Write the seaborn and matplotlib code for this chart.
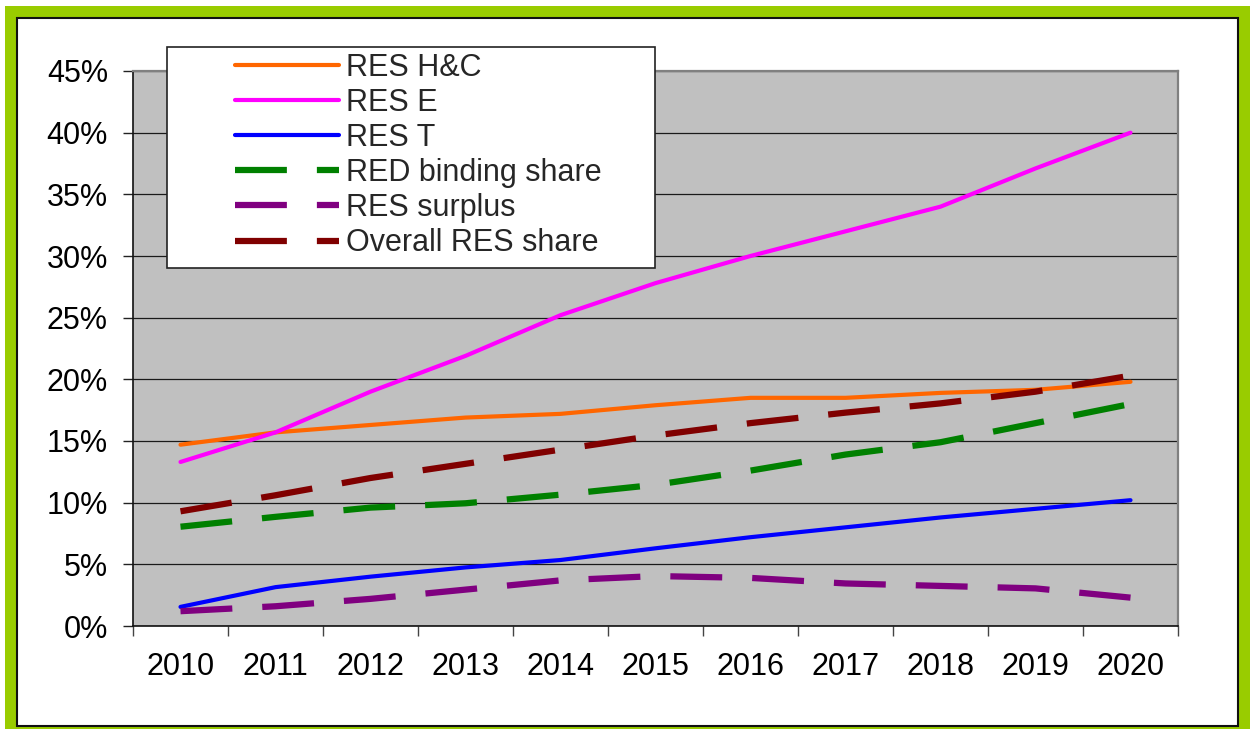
import matplotlib
matplotlib.use("Agg")
import matplotlib.pyplot as plt
from matplotlib.patches import Rectangle
from matplotlib.ticker import FixedLocator, FuncFormatter
import seaborn as sns

years = [2010, 2011, 2012, 2013, 2014, 2015, 2016, 2017, 2018, 2019, 2020]
res_hc = [14.7, 15.7, 16.3, 16.9, 17.2, 17.9, 18.5, 18.5, 18.9, 19.15, 19.8]
res_e = [13.3, 15.7, 19.0, 21.9, 25.2, 27.8, 30.0, 32.0, 34.0, 37.1, 40.0]
res_t = [1.55, 3.15, 4.0, 4.75, 5.35, 6.3, 7.2, 8.0, 8.8, 9.5, 10.2]
red_binding = [8.05, 8.85, 9.6, 9.95, 10.65, 11.45, 12.6, 13.9, 14.9, 16.45, 18.0]
res_surplus = [1.2, 1.6, 2.2, 2.95, 3.7, 4.05, 3.9, 3.45, 3.25, 3.05, 2.3]
overall_res = [9.3, 10.6, 12.0, 13.15, 14.3, 15.45, 16.45, 17.3, 18.05, 19.0, 20.3]

series_names = ["RES H&C", "RES E", "RES T", "RED binding share", "RES surplus", "Overall RES share"]
y_ticks = [0, 5, 10, 15, 20, 25, 30, 35, 40, 45]

sns.set_style("white")
plt.rcParams["font.family"] = ["Liberation Sans", "DejaVu Sans"]
FS = 22

fig = plt.figure(figsize=(12.5, 7.29), dpi=100)
fig.patch.set_facecolor("white")

# outer green frame and inner white panel
fig.add_artist(Rectangle((5 / 1250, -0.05), 1.1, 1 - 6 / 729 + 0.05,
                         transform=fig.transFigure, facecolor="#99CC00",
                         edgecolor="none", zorder=-20))
fig.add_artist(Rectangle((17 / 1250, 1 - 726 / 729), (1238 - 17) / 1250, (726 - 18) / 729,
                         transform=fig.transFigure, facecolor="white",
                         edgecolor="#111111", linewidth=1.5, zorder=-19))

ax = fig.add_axes([133 / 1250, 1 - 626 / 729, (1178 - 133) / 1250, (626 - 71) / 729])
ax.set_facecolor("#C0C0C0")

solid_lw = 3.0
dash_lw = 4.5
dash_style = (0, (8.3, 4.8))
styles = [
    (res_hc, "#FF6600", solid_lw, "-"),
    (res_e, "#FF00FF", solid_lw, "-"),
    (res_t, "#0000FF", solid_lw, "-"),
    (red_binding, "#008000", dash_lw, dash_style),
    (res_surplus, "#800080", dash_lw, dash_style),
    (overall_res, "#800000", dash_lw, dash_style),
]
for name, (vals, col, lw, ls) in zip(series_names, styles):
    sns.lineplot(x=years, y=vals, ax=ax, color=col, linewidth=lw,
                 linestyle=ls, label=name, legend=False, zorder=3)

ax.set_xlim(2009.5, 2020.5)
ax.set_ylim(0, 45)
ax.yaxis.set_major_locator(FixedLocator(y_ticks))
ax.yaxis.set_major_formatter(FuncFormatter(lambda v, p: f"{int(round(v))}%"))
ax.xaxis.set_major_locator(FixedLocator(years))
ax.xaxis.set_major_formatter(FuncFormatter(lambda v, p: f"{int(round(v))}"))
ax.xaxis.set_minor_locator(FixedLocator([y - 0.5 for y in years] + [years[-1] + 0.5]))

ax.grid(axis="y", color="#1a1a1a", linewidth=0.9, zorder=1)
ax.set_axisbelow(True)
ax.tick_params(axis="y", which="major", direction="out", length=7, width=1,
               color="#222222", pad=11, labelsize=FS, labelcolor="black", left=True)
ax.tick_params(axis="x", which="major", length=0, pad=19, labelsize=FS, labelcolor="black")
ax.tick_params(axis="x", which="minor", direction="out", length=7, width=1,
               color="#444444", bottom=True)

for side in ["left", "bottom"]:
    ax.spines[side].set_color("#111111")
    ax.spines[side].set_linewidth(1.2)
for side in ["top", "right"]:
    ax.spines[side].set_visible(True)
    ax.spines[side].set_color("#808080")
    ax.spines[side].set_linewidth(1.6)
ax.set_xlabel("")
ax.set_ylabel("")

# legend box
ax.add_patch(Rectangle((167 / 1250, 1 - 268 / 729), 488 / 1250, 221 / 729,
                       transform=fig.transFigure, facecolor="white",
                       edgecolor="#222222", linewidth=1.2, zorder=10, clip_on=False))
handles = ax.get_lines()[:6]
leg = ax.legend(handles, series_names, loc="upper left",
                bbox_to_anchor=(235 / 1250, 1 - 53 / 729), bbox_transform=fig.transFigure,
                frameon=False, borderpad=0, borderaxespad=0, handlelength=3.4,
                handletextpad=0.22, labelspacing=0.165, fontsize=FS)
leg.set_zorder(11)

fig.savefig("out.png", dpi=100, facecolor="white")
